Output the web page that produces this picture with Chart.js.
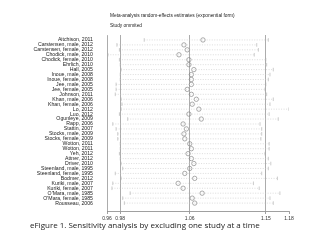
<!DOCTYPE html>
<html>
<head>
<meta charset="utf-8">
<script src="https://cdn.jsdelivr.net/npm/chart.js@4"></script>
<style>
  body { margin: 0; background: #fff; width: 320px; height: 240px; overflow: hidden; position: relative; }
  #chart { position: absolute; left: 0; top: 0; }
  .caption { position: absolute; left: 30px; top: 219px; font-family: "Open Sans", sans-serif; font-size: 8px; color: #222; white-space: nowrap; }
</style>
</head>
<body>
<canvas id="chart" width="320" height="224"></canvas>
<div class="caption">eFigure 1. Sensitivity analysis by excluding one study at a time</div>
<script>
// Estudos omitidos, um por linha
const studies = [
  "Aitchison, 2011", "Carstensen, male, 2012", "Carstensen, female, 2012",
  "Chodick, male, 2010", "Chodick, female, 2010", "Ehrlich, 2010", "Hall, 2005",
  "Inoue, male, 2008", "Inoue, female, 2008", "Jee, male, 2005", "Jee, female, 2005",
  "Johnson, 2011", "Khan, male, 2006", "Khan, female, 2006", "Lo, 2012", "Luo, 2012",
  "Ogunleye, 2009", "Rapp, 2006", "Stattin, 2007", "Stocks, male, 2009",
  "Stocks, female, 2009", "Wotton, 2011", "Wotton, 2011", "Yeh, 2012", "Attner, 2012",
  "Driver, 2010", "Steenland, male, 1995", "Steenland, female, 1995", "Bodmer, 2012",
  "Kuriki, male, 2007", "Kuriki, female, 2007", "O'Mara, male, 1985",
  "O'Mara, female, 1985", "Rousseau, 2006"
];

// Estimativas com o estudo omitido
const estimate = [
  1.076, 1.053, 1.057, 1.047, 1.059, 1.059, 1.065, 1.062, 1.062, 1.062, 1.057,
  1.062, 1.068, 1.063, 1.071, 1.059, 1.074, 1.052, 1.056, 1.053, 1.054, 1.060,
  1.062, 1.058, 1.062, 1.065, 1.060, 1.054, 1.066, 1.046, 1.052, 1.075, 1.063, 1.066
];
const lower = [
  1.005, 0.972, 0.975, 0.961, 0.975, 0.976, 0.977, 0.976, 0.976, 0.971, 0.971,
  0.970, 0.977, 0.978, 0.977, 0.975, 0.985, 0.967, 0.971, 0.973, 0.973, 0.976,
  0.976, 0.975, 0.976, 0.977, 0.979, 0.970, 0.977, 0.967, 0.966, 0.988, 0.979, 0.981
];
const upper = [
  1.155, 1.141, 1.143, 1.138, 1.152, 1.153, 1.161, 1.157, 1.155, 1.152, 1.151,
  1.153, 1.161, 1.157, 1.180, 1.156, 1.167, 1.145, 1.147, 1.147, 1.146, 1.156,
  1.156, 1.151, 1.155, 1.158, 1.155, 1.147, 1.166, 1.137, 1.144, 1.169, 1.157, 1.161
];

// Eixo x: mínimo, IC global inferior, estimativa global, IC global superior, máximo
const xTicks = [0.96, 0.976, 1.060, 1.152, 1.18];

// Linhas dos intervalos (null separa cada linha)
const ciLines = [];
studies.forEach((s, i) => {
  ciLines.push({ x: lower[i], y: i }, { x: upper[i], y: i }, { x: null, y: i });
});
const ciCaps = [];
studies.forEach((s, i) => {
  ciCaps.push({ x: lower[i], y: i }, { x: upper[i], y: i });
});

// Títulos no topo da área do gráfico
const headerPlugin = {
  id: "header",
  afterDraw(chart) {
    const c = chart.ctx;
    c.save();
    c.font = "4.8px 'Liberation Sans', Arial, sans-serif";
    c.fillStyle = "#222";
    c.textBaseline = "middle";
    c.fillText("Meta-analysis random-effects estimates (exponential form)", chart.chartArea.left + 3, 16);
    c.fillText("Study ommited", chart.chartArea.left + 3, 26);
    c.restore();
  },
};

const ctx = document.getElementById("chart").getContext("2d");
const forestChart = new Chart(ctx, {
  type: "scatter",
  data: {
    datasets: [
      {
        data: ciLines,
        showLine: true,
        borderColor: "#c4c4c4",
        borderWidth: 0.6,
        borderDash: [1, 1.5],
        pointRadius: 0,
        spanGaps: false,
      },
      {
        data: ciCaps,
        pointStyle: "line",
        rotation: 90,
        pointRadius: 1.8,
        borderColor: "#aaa",
        borderWidth: 0.6,
      },
      {
        data: studies.map((s, i) => ({ x: estimate[i], y: i })),
        pointStyle: "circle",
        pointRadius: 2.2,
        backgroundColor: "rgba(255,255,255,0)",
        borderColor: "#888",
        borderWidth: 0.7,
      },
    ],
  },
  options: {
    responsive: false,
    animation: false,
    layout: { padding: { top: 35, right: 31, left: 0, bottom: 0 } },
    plugins: { legend: { display: false }, tooltip: { enabled: false } },
    scales: {
      x: {
        type: "linear",
        min: 0.96,
        max: 1.18,
        afterBuildTicks: (scale) => {
          scale.ticks = xTicks.map((v) => ({ value: v }));
        },
        ticks: {
          autoSkip: false,
          maxRotation: 0,
          padding: 2,
          color: "#333",
          font: { family: "'Liberation Sans', Arial, sans-serif", size: 5 },
          callback: (v) => Number(v).toFixed(2),
        },
        grid: {
          color: (c) => (c.index >= 1 && c.index <= 3 ? "#888" : "rgba(0,0,0,0)"),
          lineWidth: 0.7,
          tickLength: 3,
          tickColor: "#777",
        },
        border: { display: true, color: "#777", width: 0.7 },
      },
      y: {
        type: "linear",
        min: -1,
        max: 34.6,
        reverse: true,
        afterBuildTicks: (scale) => {
          scale.ticks = studies.map((s, i) => ({ value: i }));
        },
        afterFit: (scale) => {
          scale.width = 107;
        },
        ticks: {
          autoSkip: false,
          padding: 6,
          color: "#222",
          font: { family: "'Liberation Sans', Arial, sans-serif", size: 5.2 },
          callback: (v) => studies[v] || "",
        },
        grid: { display: false },
        border: { display: true, color: "#888", width: 0.7 },
      },
    },
  },
  plugins: [headerPlugin],
});
</script>
</body>
</html>
